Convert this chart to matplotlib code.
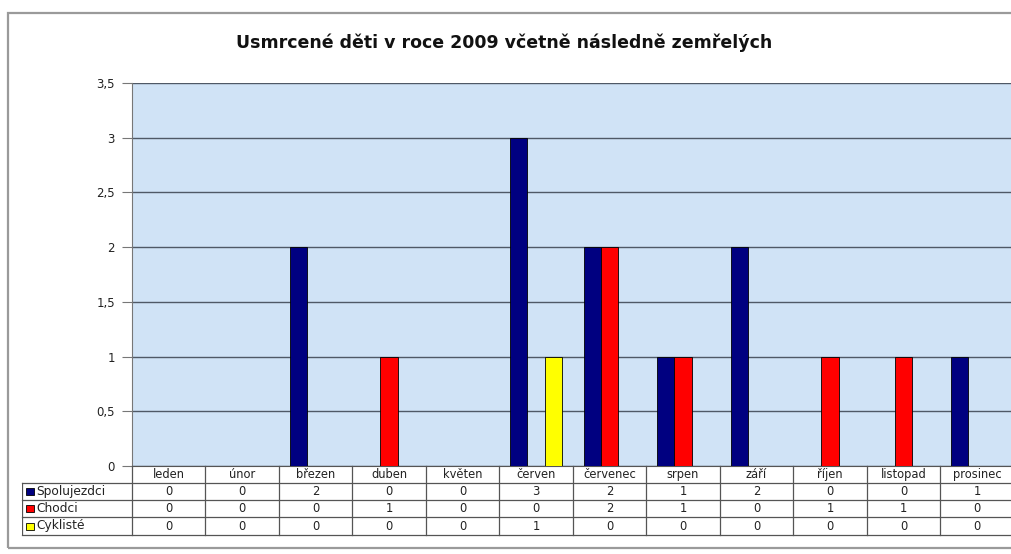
import matplotlib.pyplot as plt
import numpy as np
from matplotlib.patches import Rectangle

plt.rcParams['font.family'] = ['DejaVu Sans']

# data
months = ['leden', 'únor', 'březen', 'duben', 'květen', 'červen',
          'červenec', 'srpen', 'září', 'říjen', 'listopad', 'prosinec']
series_names = ['Spolujezdci', 'Chodci', 'Cyklisté']
spolujezdci = [0, 0, 2, 0, 0, 3, 2, 1, 2, 0, 0, 1]
chodci = [0, 0, 0, 1, 0, 0, 2, 1, 0, 1, 1, 0]
cykliste = [0, 0, 0, 0, 0, 1, 0, 0, 0, 0, 0, 0]
yticks = [0, 0.5, 1, 1.5, 2, 2.5, 3, 3.5]
ytick_labels = ['0', '0,5', '1', '1,5', '2', '2,5', '3', '3,5']
title = 'Usmrcené děti v roce 2009 včetně následně zemřelých'

colors = ['#000080', '#ff0000', '#ffff00']
series = [spolujezdci, chodci, cykliste]

W, H = 1011, 554
fig = plt.figure(figsize=(W / 100, H / 100), dpi=100)
fig.patch.set_facecolor('white')

# outer chart frame
fig.patches.append(Rectangle((8 / W, 1 - 548 / H), (1030 - 8) / W, (548 - 13) / H,
                             transform=fig.transFigure, fill=False,
                             edgecolor='#9a9a9a', lw=1.6))

fig.text(504 / W, 1 - 43 / H, title, ha='center', va='center',
         fontsize=12.5, fontweight='bold', color='#111111')

# main plot area
left, right = 131.7, 1013.7
top, bottom = 83, 466
ax = fig.add_axes([left / W, 1 - bottom / H, (right - left) / W, (bottom - top) / H])
ax.set_facecolor('#d0e3f6')
x = np.arange(len(months))
bw = 0.235
for i, (vals, c) in enumerate(zip(series, colors)):
    ax.bar(x + (i - 1) * bw, vals, width=bw, color=c, edgecolor='black',
           linewidth=0.6, zorder=3)
ax.set_xlim(-0.5, len(months) - 0.5)
ax.set_ylim(0, 3.5)
ax.set_yticks(yticks)
ax.set_yticklabels(ytick_labels, fontsize=8.5, color='#222222')
ax.set_xticks([])
ax.grid(axis='y', color='#4f5966', lw=1.0, zorder=1)
ax.tick_params(axis='y', length=7, color='#777777', pad=5)
for s in ['top', 'right']:
    ax.spines[s].set_visible(False)
ax.spines['left'].set_color('#777777')
ax.spines['bottom'].set_color('#555555')

# data table
cat_w = (right - left) / len(months)
tb_top, tb_bot = 466, 535
tl = 22
xL = -0.5 - (left - tl) / cat_w
tax = fig.add_axes([tl / W, 1 - tb_bot / H, (right - tl) / W, (tb_bot - tb_top) / H])
tax.set_xlim(xL, len(months) - 0.5)
tax.set_ylim(tb_bot - tb_top, 0)
tax.axis('off')
rows = [0, 17, 34, 51, 69]
lc = '#555555'
for yv in rows[1:]:
    tax.plot([xL, len(months) - 0.5], [yv, yv], color=lc, lw=0.9, clip_on=False)
for k in range(len(months) + 1):
    tax.plot([k - 0.5, k - 0.5], [0, 69], color=lc, lw=0.9, clip_on=False)
tax.plot([xL, xL], [17, 69], color=lc, lw=0.9)

for j, m in enumerate(months):
    tax.text(j, (rows[0] + rows[1]) / 2, m, ha='center', va='center',
             fontsize=8.3, color='#222222')
for i, (name, vals, c) in enumerate(zip(series_names, series, colors)):
    yc = (rows[i + 1] + rows[i + 2]) / 2
    sq = 8.5 / cat_w
    tax.add_patch(Rectangle((xL + 4 / cat_w, yc - 3.5), sq, 7, facecolor=c,
                            edgecolor='black', lw=0.6))
    tax.text(xL + 14 / cat_w, yc, name, ha='left', va='center',
             fontsize=8.8, color='#222222')
    for j, v in enumerate(vals):
        tax.text(j, yc, str(v), ha='center', va='center', fontsize=8.3,
                 color='#222222')

fig.savefig('out.png', dpi=100)
